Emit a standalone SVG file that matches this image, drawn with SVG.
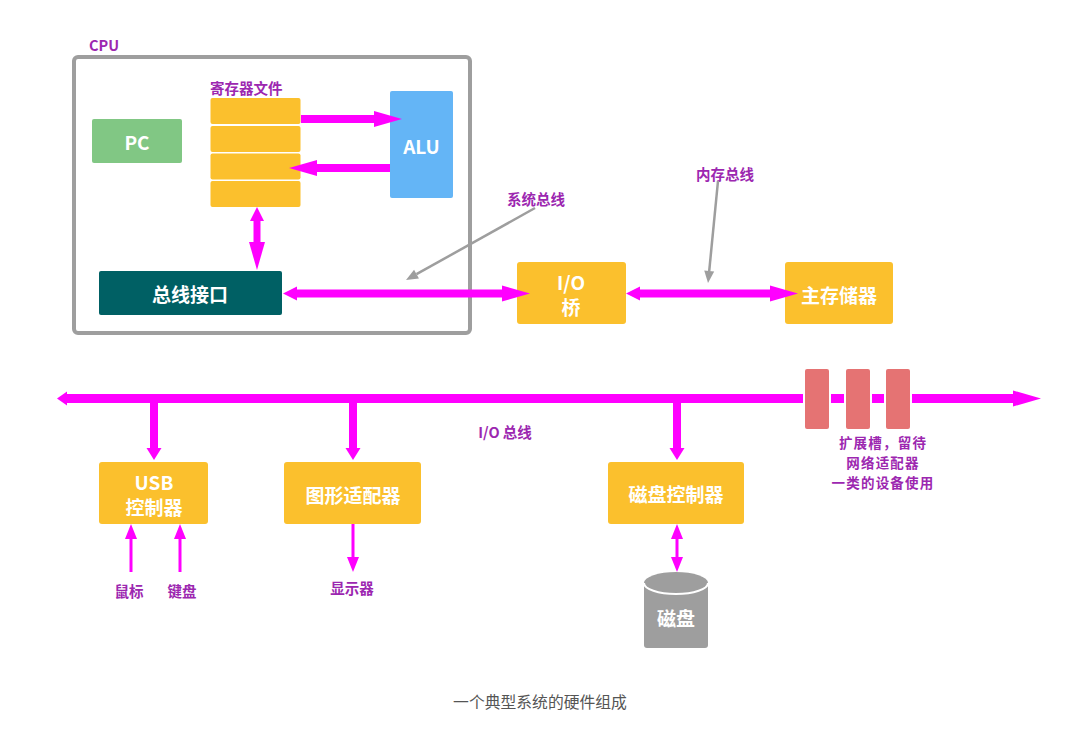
<svg xmlns="http://www.w3.org/2000/svg" width="1080" height="730" viewBox="0 0 1080 730">
<style>
.box{fill:#fbc02d}
.lbl{font-family:"Noto Sans CJK SC","Liberation Sans",sans-serif;font-weight:bold;fill:#fff;font-size:19px;text-anchor:middle;dominant-baseline:central}
.note{font-family:"Noto Sans CJK SC","Liberation Sans",sans-serif;font-weight:bold;fill:#9c27b0;font-size:14.5px;text-anchor:middle;dominant-baseline:central}
.exp{font-size:13.5px;letter-spacing:1.2px}
.bus{stroke:#ff00ff;fill:none}
.gray{stroke:#9e9e9e;stroke-width:2.5;fill:none}
</style>
<defs>
<marker id="big" markerUnits="userSpaceOnUse" markerWidth="28" markerHeight="16" refX="0" refY="8" orient="auto-start-reverse" overflow="visible"><path d="M0,0 L28,8 L0,16 z" fill="#ff00ff"/></marker>
<marker id="small" markerUnits="userSpaceOnUse" markerWidth="14" markerHeight="14" refX="0" refY="7" orient="auto-start-reverse" overflow="visible"><path d="M0,0 L14,7 L0,14 z" fill="#ff00ff"/></marker>
<marker id="stub" markerUnits="userSpaceOnUse" markerWidth="10" markerHeight="14" refX="0" refY="7" orient="auto-start-reverse" overflow="visible"><path d="M0,0 L10,7 L0,14 z" fill="#ff00ff"/></marker>
<marker id="drop" markerUnits="userSpaceOnUse" markerWidth="12" markerHeight="15" refX="0" refY="7.5" orient="auto-start-reverse" overflow="visible"><path d="M0,0 L12,7.5 L0,15 z" fill="#ff00ff"/></marker>
<marker id="thin" markerUnits="userSpaceOnUse" markerWidth="15" markerHeight="12" refX="0" refY="6" orient="auto-start-reverse" overflow="visible"><path d="M0,0 L15,6 L0,12 z" fill="#ff00ff"/></marker>
<marker id="garr" markerUnits="userSpaceOnUse" markerWidth="12" markerHeight="10" refX="0" refY="5" orient="auto" overflow="visible"><path d="M0,0 L12,5 L0,10 z" fill="#9e9e9e"/></marker>
</defs>
<rect width="1080" height="730" fill="#fff"/>

<g id="cpu">
<rect x="74" y="57" width="396" height="276" rx="4" fill="none" stroke="#9e9e9e" stroke-width="4"/>
<text x="89" y="44" class="note" style="text-anchor:start">CPU</text>
</g>
<g id="regfile">
<text x="210" y="87" class="note" style="text-anchor:start">寄存器文件</text>
<rect class="box" x="210.5" y="98" width="90" height="26" rx="2"/>
<rect class="box" x="210.5" y="126" width="90" height="26" rx="2"/>
<rect class="box" x="210.5" y="153.5" width="90" height="26" rx="2"/>
<rect class="box" x="210.5" y="181" width="90" height="26" rx="2"/>
</g>
<g id="pc">
<rect x="92" y="119" width="90" height="44" rx="2" fill="#81c784"/>
<text x="137" y="141" class="lbl">PC</text>
</g>
<g id="alu">
<rect x="390" y="91" width="63" height="107" rx="2" fill="#64b5f6"/>
<text x="421.5" y="145" class="lbl">ALU</text>
</g>
<g id="businterface">
<rect x="99" y="271" width="183" height="44" rx="2" fill="#006064"/>
<text x="190" y="293" class="lbl">总线接口</text>
</g>
<g id="iobridge">
<rect class="box" x="517" y="262" width="109" height="62" rx="3"/>
<text x="571" y="281" class="lbl">I/O</text>
<text x="571" y="306" class="lbl">桥</text>
</g>
<g id="memory">
<rect class="box" x="785" y="262" width="108" height="62" rx="3"/>
<text x="839" y="294" class="lbl">主存储器</text>
</g>
<g id="usb">
<rect class="box" x="99" y="462" width="109" height="62" rx="3"/>
<text x="154" y="481" class="lbl">USB</text>
<text x="154" y="506" class="lbl">控制器</text>
</g>
<g id="graphics">
<rect class="box" x="284" y="462" width="137" height="62" rx="3"/>
<text x="353" y="494" class="lbl">图形适配器</text>
</g>
<g id="diskctrl">
<rect class="box" x="608" y="462" width="136" height="62" rx="3"/>
<text x="676" y="493" class="lbl">磁盘控制器</text>
</g>
<g id="disk">
<path d="M644,583 A32,11 0 0 1 708,583 L708,645 Q708,648 705,648 L647,648 Q644,648 644,645 Z" fill="#9e9e9e"/>
<path d="M644,583 A32,11 0 0 0 708,583" fill="none" stroke="#fff" stroke-width="2"/>
<text x="676" y="617" class="lbl">磁盘</text>
</g>
<g id="labels">
<text x="536" y="198" class="note">系统总线</text>
<text x="725" y="173" class="note">内存总线</text>
<text x="505" y="431" class="note">I/O 总线</text>
<text x="129" y="590" class="note">鼠标</text>
<text x="182" y="590" class="note">键盘</text>
<text x="352" y="587" class="note">显示器</text>
<text x="883" y="442" class="note exp">扩展槽，留待</text>
<text x="883" y="461.8" class="note exp">网络适配器</text>
<text x="883" y="481.6" class="note exp">一类的设备使用</text>
</g>

<g id="connectors">
<line class="bus" x1="301" y1="119" x2="374" y2="119" stroke-width="8" marker-end="url(#big)"/>
<line class="bus" x1="390" y1="168" x2="317" y2="168" stroke-width="8" marker-end="url(#big)"/>
<line class="bus" x1="257" y1="221" x2="257" y2="242" stroke-width="7" marker-start="url(#small)" marker-end="url(#big)"/>
<line class="bus" x1="297" y1="293.5" x2="502" y2="293.5" stroke-width="8" marker-start="url(#small)" marker-end="url(#big)"/>
<line class="bus" x1="640" y1="293.5" x2="770" y2="293.5" stroke-width="8" marker-start="url(#small)" marker-end="url(#big)"/>
<line class="bus" x1="67" y1="398.5" x2="1013" y2="398.5" stroke-width="9" marker-start="url(#stub)" marker-end="url(#big)"/>
<line class="bus" x1="154" y1="398" x2="154" y2="448" stroke-width="8" marker-end="url(#drop)"/>
<line class="bus" x1="353" y1="398" x2="353" y2="448" stroke-width="8" marker-end="url(#drop)"/>
<line class="bus" x1="677" y1="398" x2="677" y2="448" stroke-width="8" marker-end="url(#drop)"/>
<line class="bus" x1="131" y1="572" x2="131" y2="539" stroke-width="3" marker-end="url(#thin)"/>
<line class="bus" x1="180" y1="572" x2="180" y2="539" stroke-width="3" marker-end="url(#thin)"/>
<line class="bus" x1="353" y1="524" x2="353" y2="557" stroke-width="3" marker-end="url(#thin)"/>
<line class="bus" x1="677" y1="539" x2="677" y2="557" stroke-width="3" marker-start="url(#thin)" marker-end="url(#thin)"/>
<line class="gray" x1="535" y1="208" x2="416.5" y2="274.2" marker-end="url(#garr)"/>
<line class="gray" x1="718" y1="181" x2="709.2" y2="271.1" marker-end="url(#garr)"/>
</g>

<g id="slots">
<rect x="804" y="368" width="26" height="62" rx="3" fill="#e57373" stroke="#fff" stroke-width="2"/>
<rect x="845" y="368" width="26" height="62" rx="3" fill="#e57373" stroke="#fff" stroke-width="2"/>
<rect x="885" y="368" width="26" height="62" rx="3" fill="#e57373" stroke="#fff" stroke-width="2"/>
</g>
<g id="caption">
<text x="540" y="701" style="font-family:'Noto Sans CJK SC','Liberation Sans',sans-serif;font-size:15.8px;fill:#555;text-anchor:middle;dominant-baseline:central">一个典型系统的硬件组成</text>
</g>
</svg>
